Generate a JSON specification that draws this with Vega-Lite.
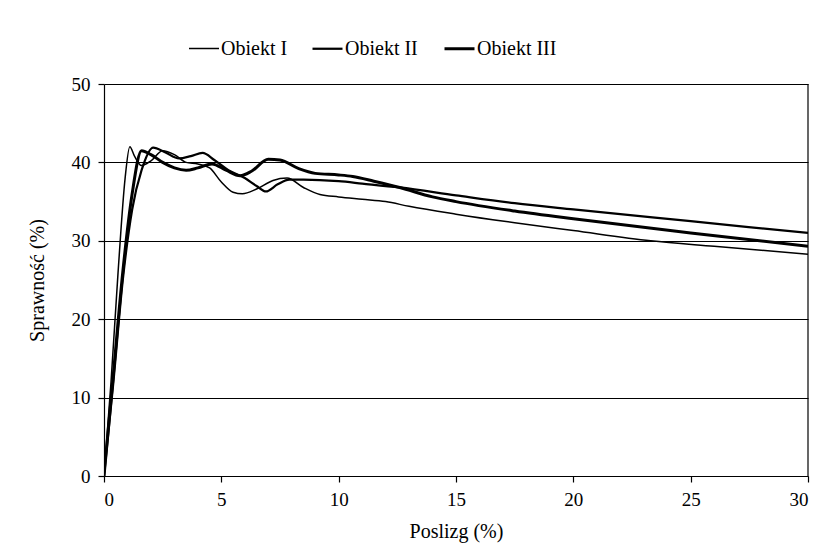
{
  "$schema": "https://vega.github.io/schema/vega-lite/v6.json",
  "width": 704,
  "height": 392,
  "autosize": "none",
  "padding": {"left": 104, "top": 84, "right": 21, "bottom": 80},
  "background": "white",
  "config": {
    "view": {"stroke": null},
    "font": "Liberation Serif, Times New Roman, serif"
  },
  "data": {
    "values": [
      {"s":"Obiekt I","x":0,"y":0},{"s":"Obiekt I","x":0.3,"y":12},{"s":"Obiekt I","x":0.6,"y":26},{"s":"Obiekt I","x":0.9,"y":38},{"s":"Obiekt I","x":1.1,"y":42},{"s":"Obiekt I","x":1.3,"y":40.8},{"s":"Obiekt I","x":1.6,"y":39.6},{"s":"Obiekt I","x":2.0,"y":40.2},{"s":"Obiekt I","x":2.5,"y":41.5},{"s":"Obiekt I","x":3.0,"y":41.0},{"s":"Obiekt I","x":3.5,"y":40.0},{"s":"Obiekt I","x":4.0,"y":39.8},{"s":"Obiekt I","x":4.5,"y":39.3},{"s":"Obiekt I","x":5.0,"y":37.5},{"s":"Obiekt I","x":5.5,"y":36.2},{"s":"Obiekt I","x":5.9,"y":36.0},{"s":"Obiekt I","x":6.5,"y":36.6},{"s":"Obiekt I","x":7.2,"y":37.7},{"s":"Obiekt I","x":7.8,"y":38.0},{"s":"Obiekt I","x":8.5,"y":36.8},{"s":"Obiekt I","x":9.2,"y":35.9},{"s":"Obiekt I","x":10,"y":35.6},{"s":"Obiekt I","x":11,"y":35.3},{"s":"Obiekt I","x":12,"y":35.0},{"s":"Obiekt I","x":13,"y":34.4},{"s":"Obiekt I","x":15,"y":33.4},{"s":"Obiekt I","x":17.5,"y":32.3},{"s":"Obiekt I","x":20,"y":31.3},{"s":"Obiekt I","x":23.3,"y":30.0},{"s":"Obiekt I","x":26,"y":29.3},{"s":"Obiekt I","x":30,"y":28.3},
      {"s":"Obiekt II","x":0,"y":0},{"s":"Obiekt II","x":0.4,"y":12},{"s":"Obiekt II","x":0.8,"y":25},{"s":"Obiekt II","x":1.2,"y":34},{"s":"Obiekt II","x":1.6,"y":39},{"s":"Obiekt II","x":2.1,"y":41.9},{"s":"Obiekt II","x":2.6,"y":41.3},{"s":"Obiekt II","x":3.2,"y":40.5},{"s":"Obiekt II","x":3.7,"y":40.8},{"s":"Obiekt II","x":4.2,"y":41.2},{"s":"Obiekt II","x":4.7,"y":40.3},{"s":"Obiekt II","x":5.3,"y":39.0},{"s":"Obiekt II","x":6.0,"y":38.0},{"s":"Obiekt II","x":6.5,"y":37.0},{"s":"Obiekt II","x":6.9,"y":36.3},{"s":"Obiekt II","x":7.4,"y":37.2},{"s":"Obiekt II","x":7.9,"y":37.8},{"s":"Obiekt II","x":8.5,"y":37.8},{"s":"Obiekt II","x":10,"y":37.6},{"s":"Obiekt II","x":11,"y":37.3},{"s":"Obiekt II","x":12.6,"y":36.8},{"s":"Obiekt II","x":15,"y":35.8},{"s":"Obiekt II","x":17.5,"y":34.8},{"s":"Obiekt II","x":20,"y":34.0},{"s":"Obiekt II","x":25,"y":32.5},{"s":"Obiekt II","x":30,"y":31.0},
      {"s":"Obiekt III","x":0,"y":0},{"s":"Obiekt III","x":0.4,"y":13},{"s":"Obiekt III","x":0.8,"y":26},{"s":"Obiekt III","x":1.2,"y":36},{"s":"Obiekt III","x":1.6,"y":41.5},{"s":"Obiekt III","x":2.0,"y":41.0},{"s":"Obiekt III","x":2.5,"y":40.0},{"s":"Obiekt III","x":3.0,"y":39.3},{"s":"Obiekt III","x":3.5,"y":39.0},{"s":"Obiekt III","x":4.0,"y":39.3},{"s":"Obiekt III","x":4.6,"y":39.8},{"s":"Obiekt III","x":5.2,"y":39.0},{"s":"Obiekt III","x":5.8,"y":38.3},{"s":"Obiekt III","x":6.3,"y":38.9},{"s":"Obiekt III","x":7.0,"y":40.4},{"s":"Obiekt III","x":7.5,"y":40.3},{"s":"Obiekt III","x":8.3,"y":39.2},{"s":"Obiekt III","x":9,"y":38.6},{"s":"Obiekt III","x":10,"y":38.4},{"s":"Obiekt III","x":10.6,"y":38.2},{"s":"Obiekt III","x":11.5,"y":37.6},{"s":"Obiekt III","x":12.6,"y":36.8},{"s":"Obiekt III","x":14,"y":35.6},{"s":"Obiekt III","x":15,"y":35.0},{"s":"Obiekt III","x":17.5,"y":33.8},{"s":"Obiekt III","x":20,"y":32.8},{"s":"Obiekt III","x":25,"y":31.0},{"s":"Obiekt III","x":30,"y":29.3}
    ]
  },
  "layer": [
    {
      "mark": {"type": "rule", "color": "black", "strokeWidth": 1.2},
      "data": {"values": [{"xr": 30}]},
      "encoding": {"x": {"field": "xr", "type": "quantitative", "scale": {"domain": [0, 30]}}}
    },
    {
      "mark": {"type": "line", "color": "black", "interpolate": "monotone", "clip": true},
      "encoding": {
        "x": {
          "field": "x", "type": "quantitative",
          "scale": {"domain": [0, 30], "nice": false, "zero": false},
          "axis": {
            "title": "Poslizg (%)", "values": [0,5,10,15,20,25,30],
            "grid": false, "domainColor": "black", "domainWidth": 1.2,
            "tickColor": "black", "tickSize": 6, "tickWidth": 1.2,
            "labelFont": "Liberation Serif, Times New Roman, serif", "labelFontSize": 19, "labelColor": "black", "labelPadding": 8,
            "titleFont": "Liberation Serif, Times New Roman, serif", "titleFontSize": 20, "titleFontWeight": "normal", "titleColor": "black", "titlePadding": 12
          }
        },
        "y": {
          "field": "y", "type": "quantitative",
          "scale": {"domain": [0, 50], "nice": false},
          "axis": {
            "title": "Sprawność (%)", "values": [0,10,20,30,40,50],
            "grid": true, "gridColor": "black", "gridWidth": 1.2, "gridOpacity": 1,
            "domainColor": "black", "domainWidth": 1.2,
            "tickColor": "black", "tickSize": 6, "tickWidth": 1.2,
            "labelFont": "Liberation Serif, Times New Roman, serif", "labelFontSize": 19, "labelColor": "black", "labelPadding": 8,
            "titleFont": "Liberation Serif, Times New Roman, serif", "titleFontSize": 20, "titleFontWeight": "normal", "titleColor": "black", "titlePadding": 24
          }
        },
        "detail": {"field": "s"},
        "strokeWidth": {
          "field": "s", "type": "nominal",
          "scale": {"domain": ["Obiekt I", "Obiekt II", "Obiekt III"], "range": [1.5, 3, 4.5]},
          "legend": {
            "title": null, "orient": "none", "direction": "horizontal",
            "legendX": 84, "legendY": -52,
            "symbolType": "stroke", "symbolSize": 900, "symbolStrokeColor": "black",
            "labelFont": "Liberation Serif, Times New Roman, serif", "labelFontSize": 20, "labelColor": "black",
            "labelOffset": 1, "columnPadding": 20
          }
        }
      }
    }
  ]
}
